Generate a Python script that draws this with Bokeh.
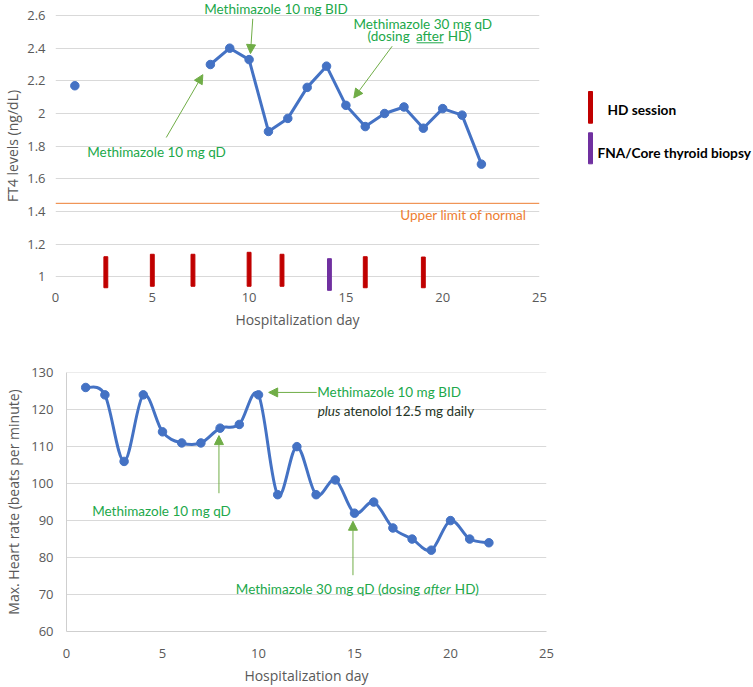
import numpy as np
from bokeh.plotting import figure
from bokeh.layouts import row, column
from bokeh.models import Range1d, FixedTicker, Label, Arrow, NormalHead, NumeralTickFormatter
from bokeh.embed import file_html
from bokeh.resources import INLINE
from bokeh.core.properties import value

# ---------------- data ----------------
ft4_days = [1, 8, 9, 10, 11, 12, 13, 14, 15, 16, 17, 18, 19, 20, 21, 22]
ft4_values = [2.17, 2.30, 2.40, 2.33, 1.89, 1.97, 2.16, 2.29, 2.05, 1.92, 2.00, 2.04, 1.91, 2.03, 1.99, 1.69]
ft4_upper_limit = 1.45

hd_days = [2.6, 5.0, 7.1, 10.0, 11.7, 16.0, 19.0]
hd_top = [1.123, 1.138, 1.138, 1.15, 1.138, 1.123, 1.121]
hd_bottom = [0.933, 0.942, 0.942, 0.942, 0.942, 0.933, 0.933]
biopsy_days = [14.15]
biopsy_top = [1.111]
biopsy_bottom = [0.917]

hr_days = list(range(1, 23))
hr_values = [126, 124, 106, 124, 114, 111, 111, 115, 116, 124, 97, 110, 97, 101,
             92, 95, 88, 85, 82, 90, 85, 84]

x_ticks = [0, 5, 10, 15, 20, 25]
ft4_ticks = [1.0, 1.2, 1.4, 1.6, 1.8, 2.0, 2.2, 2.4, 2.6]
hr_ticks = [60, 70, 80, 90, 100, 110, 120, 130]

legend_labels = ["HD session", "FNA/Core thyroid biopsy"]

# ---------------- styles ----------------
BLUE = "#4472C4"
RED = "#C00000"
PURPLE = "#7030A0"
ORANGE = "#ED7D31"
GREEN_TXT = "#21A84A"
GREEN_ARW = "#70AD47"
DARK_TXT = "#263526"
AX_TXT = "#595959"
GRID = "#D9D9D9"
AX_FONT = "Open Sans"
ANN_FONT = "Lato"
ANN_SIZE = "13.5px"


def style_axes(p):
    for ax in (p.xaxis + p.yaxis):
        ax.major_tick_line_color = None
        ax.minor_tick_line_color = None
        ax.major_tick_out = 0
        ax.major_tick_in = 0
        ax.minor_tick_out = 0
        ax.minor_tick_in = 0
        ax.major_label_text_font = AX_FONT
        ax.major_label_text_font_size = "13px"
        ax.major_label_text_color = AX_TXT
        ax.axis_label_text_font = AX_FONT
        ax.axis_label_text_font_size = "14px"
        ax.axis_label_text_font_style = "normal"
        ax.axis_label_text_color = AX_TXT


def ann(p, x, y, text, color=GREEN_TXT, align="left", style="normal", baseline="middle", x_offset=0):
    p.add_layout(Label(x=x, y=y, text=text, text_font=ANN_FONT, text_font_size=ANN_SIZE,
                       text_color=color, text_align=align, text_baseline=baseline,
                       text_font_style=style, x_offset=x_offset))


def arrow(p, xs, ys, xe, ye):
    p.add_layout(Arrow(end=NormalHead(size=9, fill_color=GREEN_ARW, line_color=GREEN_ARW),
                       x_start=xs, y_start=ys, x_end=xe, y_end=ye,
                       line_color=GREEN_ARW, line_width=1))


# ---------------- top chart: FT4 ----------------
TOP_H = 345
TOP_BOTTOM_BORDER = 54
p1 = figure(width=548, height=TOP_H, x_range=Range1d(0, 25), y_range=Range1d(0.91, 2.692),
            output_backend="svg", toolbar_location=None,
            min_border_left=55, min_border_right=9, min_border_top=0,
            min_border_bottom=TOP_BOTTOM_BORDER)
p1.outline_line_color = None
p1.xgrid.visible = False
p1.ygrid.grid_line_color = GRID
p1.xaxis.ticker = FixedTicker(ticks=x_ticks)
p1.yaxis.ticker = FixedTicker(ticks=ft4_ticks)
p1.yaxis.formatter = NumeralTickFormatter(format="0.[0]")
p1.xaxis.axis_line_color = None
p1.yaxis.axis_line_color = None
p1.xaxis.axis_label = "Hospitalization day"
p1.yaxis.axis_label = "FT4 levels (ng/dL)"
style_axes(p1)
p1.xaxis.major_label_standoff = 1
p1.xaxis.axis_label_standoff = 5
p1.yaxis.major_label_standoff = 10
p1.yaxis.axis_label_standoff = 2

# upper limit of normal
p1.line(x=[0, 25], y=[ft4_upper_limit, ft4_upper_limit], line_color=ORANGE, line_width=1)

# HD sessions and biopsy bars
p1.vbar(x=hd_days, top=hd_top, bottom=hd_bottom, width=0.2, color=RED)
p1.vbar(x=biopsy_days, top=biopsy_top, bottom=biopsy_bottom, width=0.2, color=PURPLE)

# FT4 series, broken where days are missing
lx, ly = [], []
for i, (d, v) in enumerate(zip(ft4_days, ft4_values)):
    if i > 0 and d - ft4_days[i - 1] > 1:
        lx.append(np.nan)
        ly.append(np.nan)
    lx.append(d)
    ly.append(v)
p1.line(x=np.array(lx, dtype=float), y=np.array(ly, dtype=float), line_color=BLUE, line_width=3)
p1.scatter(x=ft4_days, y=ft4_values, size=8.5, color=BLUE)

ann(p1, 24.33, 1.379, "Upper limit of normal", color=ORANGE, align="right")
ann(p1, 11.39, 2.642, "Methimazole 10 mg BID", align="center")
arrow(p1, 10.19, 2.58, 10.07, 2.367)
ann(p1, 5.22, 1.766, "Methimazole 10 mg qD", align="center")
arrow(p1, 5.72, 1.853, 7.61, 2.238)
ann(p1, 15.39, 2.551, "Methimazole 30 mg qD")
ann(p1, 16.12, 2.477, "(dosing")
ann(p1, 19.34, 2.477, "after", align="center")
ann(p1, 21.49, 2.477, "HD)", align="right")
p1.line(x=[18.65, 20.04], y=[2.433, 2.433], line_color=GREEN_TXT, line_width=1)
arrow(p1, 17.39, 2.412, 15.41, 2.095)

# legend panel (its frame is aligned with the top chart's frame: 0 .. TOP_H - border)
leg_h = TOP_H - TOP_BOTTOM_BORDER
leg = figure(width=205, height=TOP_H, x_range=Range1d(0, 205), y_range=Range1d(leg_h, 0),
             output_backend="svg", toolbar_location=None, x_axis_type=None, y_axis_type=None,
             min_border_left=0, min_border_right=0, min_border_top=0,
             min_border_bottom=TOP_BOTTOM_BORDER)
leg.outline_line_color = None
leg.vbar(x=[42, 42], top=[91, 132.3], bottom=[122.7, 163.3], width=4, color=[RED, PURPLE])
leg.text(x=[59, 49], y=[109, 152], text=legend_labels, text_font=value(ANN_FONT),
         text_font_style="bold", text_font_size=value("13.7px"), text_color="#000000",
         text_baseline="middle")

# ---------------- bottom chart: heart rate ----------------
p2 = figure(width=556, height=342, x_range=Range1d(0, 25), y_range=Range1d(60, 130.05),
            output_backend="svg", toolbar_location=None,
            min_border_left=66, min_border_right=10, min_border_top=27, min_border_bottom=53)
p2.outline_line_color = None
p2.xgrid.visible = False
p2.ygrid.grid_line_color = GRID
p2.xaxis.ticker = FixedTicker(ticks=x_ticks)
p2.yaxis.ticker = FixedTicker(ticks=hr_ticks)
p2.xaxis.axis_line_color = "#CFCFCF"
p2.yaxis.axis_line_color = "#CFCFCF"
p2.xaxis.axis_label = "Hospitalization day"
p2.yaxis.axis_label = "Max. Heart rate (beats per minute)"
style_axes(p2)
p2.xaxis.major_label_standoff = 17
p2.xaxis.axis_label_standoff = 5
p2.yaxis.major_label_standoff = 13
p2.yaxis.axis_label_standoff = 5

# smoothed line (Catmull-Rom style Bezier between the data points)
hx = np.array(hr_days, dtype=float)
hy = np.array(hr_values, dtype=float)
n = len(hx)
px = np.concatenate([[hx[0]], hx, [hx[-1]]])
py = np.concatenate([[hy[0]], hy, [hy[-1]]])
x0, y0 = hx[:-1], hy[:-1]
x1, y1 = hx[1:], hy[1:]
cx0 = px[1:n] + (px[2:n + 1] - px[0:n - 1]) / 6.0
cy0 = py[1:n] + (py[2:n + 1] - py[0:n - 1]) / 6.0
cx1 = px[2:n + 1] - (px[3:n + 2] - px[1:n]) / 6.0
cy1 = py[2:n + 1] - (py[3:n + 2] - py[1:n]) / 6.0
p2.bezier(x0=x0, y0=y0, x1=x1, y1=y1, cx0=cx0, cy0=cy0, cx1=cx1, cy1=cy1,
          line_color=BLUE, line_width=3)
p2.scatter(x=hr_days, y=hr_values, size=8.5, color=BLUE)

arrow(p2, 13.03, 124.66, 10.53, 124.66)
ann(p2, 13.06, 124.66, "Methimazole 10 mg BID")
ann(p2, 13.08, 119.66, "plus", color=DARK_TXT, style="italic")
ann(p2, 13.08, 119.66, "atenolol 12.5 mg daily", color=DARK_TXT, x_offset=26)
arrow(p2, 7.94, 97.4, 7.94, 112.98)
ann(p2, 4.95, 92.68, "Methimazole 10 mg qD", align="center")
arrow(p2, 14.92, 75.23, 14.92, 89.82)
ann(p2, 8.82, 71.57, "Methimazole 30 mg qD (dosing")
ann(p2, 8.82, 71.57, "after", style="italic", x_offset=188)
ann(p2, 8.82, 71.57, "HD)", x_offset=219)

layout = column(row(p1, leg), p2)
open("out.html", "w").write(file_html(layout, INLINE))
